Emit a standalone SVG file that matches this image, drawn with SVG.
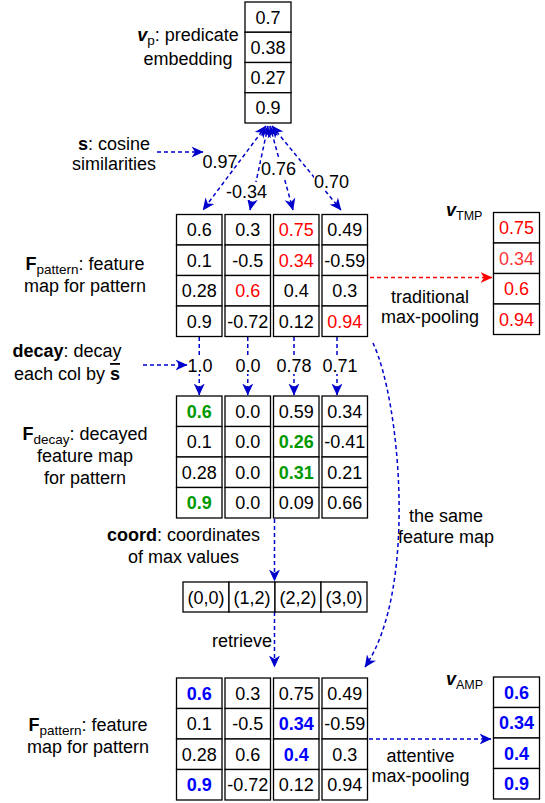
<svg xmlns="http://www.w3.org/2000/svg" width="545" height="803" viewBox="0 0 545 803">
<defs>
<style>
text{font-family:"Liberation Sans",Arial,Helvetica,sans-serif;font-size:18px;fill:#000}
.cell{fill:#fff;stroke:#000;stroke-width:1.3}
.c{text-anchor:middle}
.red{fill:#FF0000}
.red2{fill:#FF3333}
.grn{fill:#009900;font-weight:bold}
.blu{fill:#0000FF;font-weight:bold}
.b{font-weight:bold}
.bi{font-weight:bold;font-style:italic}
.sub{font-size:13.5px}
.edge{fill:none;stroke:#0000CC;stroke-width:1.5;stroke-dasharray:4 3}
.edgeR{fill:none;stroke:#FF0000;stroke-width:1.5;stroke-dasharray:4 3}
.lbg{fill:#fff}
</style>
<marker id="ab" viewBox="0 0 12 12" markerWidth="12" markerHeight="12" refX="11.5" refY="6" orient="auto-start-reverse" markerUnits="userSpaceOnUse">
<path d="M0,0.5 L12,6 L0,11.5 L3.5,6 Z" fill="#0000CC"/>
</marker>
<marker id="ar" viewBox="0 0 12 12" markerWidth="12" markerHeight="12" refX="11.5" refY="6" orient="auto" markerUnits="userSpaceOnUse">
<path d="M0,0.5 L12,6 L0,11.5 L3.5,6 Z" fill="#FF0000"/>
</marker>
</defs>
<rect width="545" height="803" fill="#fff"/>

<g id="connectors">
<path class="edge" d="M266,126 L203,210" marker-start="url(#ab)" marker-end="url(#ab)"/>
<path class="edge" d="M268,126 L250,210" marker-start="url(#ab)" marker-end="url(#ab)"/>
<path class="edge" d="M270,126 L293,210" marker-start="url(#ab)" marker-end="url(#ab)"/>
<path class="edge" d="M272,126 L341,210" marker-start="url(#ab)" marker-end="url(#ab)"/>
<path class="edge" d="M157,152 L203,152" marker-end="url(#ab)"/>
<path class="edge" d="M143,365 L187,365" marker-end="url(#ab)"/>
<path class="edge" d="M199.25,337 L199.25,395" marker-end="url(#ab)"/>
<path class="edge" d="M247.75,337 L247.75,395" marker-end="url(#ab)"/>
<path class="edge" d="M294,337 L294,395" marker-end="url(#ab)"/>
<path class="edge" d="M337,337 L337,395" marker-end="url(#ab)"/>
<path class="edgeR" d="M370,277.5 L492,277.5" marker-end="url(#ar)"/>
<path class="edge" d="M373,343 C400,400 418,590 365,667" marker-end="url(#ab)"/>
<path class="edge" d="M274.5,519 L274.5,581" marker-end="url(#ab)"/>
<path class="edge" d="M274.5,612 L274.5,667" marker-end="url(#ab)"/>
<path class="edge" d="M369,739 L491,739" marker-end="url(#ab)"/>
<rect class="lbg" x="226" y="182" width="41" height="18"/>
<rect class="lbg" x="261" y="159" width="35" height="18"/>
<rect class="lbg" x="314" y="172" width="35" height="18"/>
<rect class="lbg" x="189" y="356" width="23" height="18"/>
<rect class="lbg" x="236" y="356" width="24" height="18"/>
<rect class="lbg" x="277" y="356" width="34" height="18"/>
<rect class="lbg" x="323" y="356" width="34" height="18"/>
<text class="c" x="220" y="167.5">0.97</text>
<text class="c" x="246.5" y="197.5">-0.34</text>
<text class="c" x="278.5" y="174.5">0.76</text>
<text class="c" x="331.5" y="187.5">0.70</text>
<text class="c" x="200" y="371.5">1.0</text>
<text class="c" x="248" y="371.5">0.0</text>
<text class="c" x="294" y="371.5">0.78</text>
<text class="c" x="340" y="371.5">0.71</text>
<text x="272" y="647" text-anchor="end">retrieve</text>
<text class="c" x="446" y="522">the same</text>
<text class="c" x="446" y="543">feature map</text>
<text class="c" x="430" y="303">traditional</text>
<text class="c" x="430" y="323">max-pooling</text>
<text class="c" x="420.5" y="762">attentive</text>
<text class="c" x="420.5" y="782">max-pooling</text>
</g>

<g id="vp">
<rect class="cell" x="245" y="2" width="46" height="30.25"/>
<rect class="cell" x="245" y="32.25" width="46" height="30.25"/>
<rect class="cell" x="245" y="62.5" width="46" height="30.25"/>
<rect class="cell" x="245" y="92.75" width="46" height="30.25"/>
<text class="c" x="268" y="23.6">0.7</text>
<text class="c" x="268" y="53.9">0.38</text>
<text class="c" x="268" y="84.1">0.27</text>
<text class="c" x="268" y="114.4">0.9</text>
<text class="c" x="188" y="41"><tspan class="bi">v</tspan><tspan class="sub" dy="4">p</tspan><tspan dy="-4">: predicate</tspan></text>
<text class="c" x="188" y="65">embedding</text>
</g>

<g id="s-label">
<text class="c" x="114" y="150"><tspan class="b">s</tspan>: cosine</text>
<text class="c" x="114" y="170">similarities</text>
</g>

<g id="f-pattern">
<rect class="cell" x="176.5" y="214.5" width="45.5" height="30.5"/>
<rect class="cell" x="176.5" y="245" width="45.5" height="30.5"/>
<rect class="cell" x="176.5" y="275.5" width="45.5" height="30.5"/>
<rect class="cell" x="176.5" y="306" width="45.5" height="30.5"/>
<rect class="cell" x="225" y="214.5" width="45.5" height="30.5"/>
<rect class="cell" x="225" y="245" width="45.5" height="30.5"/>
<rect class="cell" x="225" y="275.5" width="45.5" height="30.5"/>
<rect class="cell" x="225" y="306" width="45.5" height="30.5"/>
<rect class="cell" x="273.5" y="214.5" width="45.5" height="30.5"/>
<rect class="cell" x="273.5" y="245" width="45.5" height="30.5"/>
<rect class="cell" x="273.5" y="275.5" width="45.5" height="30.5"/>
<rect class="cell" x="273.5" y="306" width="45.5" height="30.5"/>
<rect class="cell" x="322" y="214.5" width="45.5" height="30.5"/>
<rect class="cell" x="322" y="245" width="45.5" height="30.5"/>
<rect class="cell" x="322" y="275.5" width="45.5" height="30.5"/>
<rect class="cell" x="322" y="306" width="45.5" height="30.5"/>
<text class="c" x="199.25" y="236">0.6</text>
<text class="c" x="199.25" y="266.5">0.1</text>
<text class="c" x="199.25" y="297">0.28</text>
<text class="c" x="199.25" y="327.5">0.9</text>
<text class="c" x="247.75" y="236">0.3</text>
<text class="c" x="247.75" y="266.5">-0.5</text>
<text class="c red" x="247.75" y="297">0.6</text>
<text class="c" x="247.75" y="327.5">-0.72</text>
<text class="c red" x="296.25" y="236">0.75</text>
<text class="c red" x="296.25" y="266.5">0.34</text>
<text class="c" x="296.25" y="297">0.4</text>
<text class="c" x="296.25" y="327.5">0.12</text>
<text class="c" x="344.75" y="236">0.49</text>
<text class="c" x="344.75" y="266.5">-0.59</text>
<text class="c" x="344.75" y="297">0.3</text>
<text class="c red" x="344.75" y="327.5">0.94</text>
<text class="c" x="85" y="270"><tspan class="b">F</tspan><tspan class="sub" dy="4">pattern</tspan><tspan dy="-4">: feature</tspan></text>
<text class="c" x="85" y="292">map for pattern</text>
</g>

<g id="v-tmp">
<rect class="cell" x="493.5" y="212.5" width="46" height="30.5"/>
<rect class="cell" x="493.5" y="243" width="46" height="30.5"/>
<rect class="cell" x="493.5" y="273.5" width="46" height="30.5"/>
<rect class="cell" x="493.5" y="304" width="46" height="30.5"/>
<text class="c red" x="516.5" y="234">0.75</text>
<text class="c red2" x="516.5" y="264.5">0.34</text>
<text class="c red" x="516.5" y="295">0.6</text>
<text class="c red" x="516.5" y="325.5">0.94</text>
<text x="446" y="216"><tspan class="bi">v</tspan><tspan font-size="12.5" dy="4">TMP</tspan></text>
</g>

<g id="decay-label">
<text class="c" x="67" y="357"><tspan class="b">decay</tspan>: decay</text>
<text class="c" x="67" y="380">each col by <tspan class="b" text-decoration="overline">s</tspan></text>
</g>

<g id="f-decay">
<rect class="cell" x="176.5" y="396" width="45.5" height="30.5"/>
<rect class="cell" x="176.5" y="426.5" width="45.5" height="30.5"/>
<rect class="cell" x="176.5" y="457" width="45.5" height="30.5"/>
<rect class="cell" x="176.5" y="487.5" width="45.5" height="30.5"/>
<rect class="cell" x="225" y="396" width="45.5" height="30.5"/>
<rect class="cell" x="225" y="426.5" width="45.5" height="30.5"/>
<rect class="cell" x="225" y="457" width="45.5" height="30.5"/>
<rect class="cell" x="225" y="487.5" width="45.5" height="30.5"/>
<rect class="cell" x="273.5" y="396" width="45.5" height="30.5"/>
<rect class="cell" x="273.5" y="426.5" width="45.5" height="30.5"/>
<rect class="cell" x="273.5" y="457" width="45.5" height="30.5"/>
<rect class="cell" x="273.5" y="487.5" width="45.5" height="30.5"/>
<rect class="cell" x="322" y="396" width="45.5" height="30.5"/>
<rect class="cell" x="322" y="426.5" width="45.5" height="30.5"/>
<rect class="cell" x="322" y="457" width="45.5" height="30.5"/>
<rect class="cell" x="322" y="487.5" width="45.5" height="30.5"/>
<text class="c grn" x="199.25" y="417.5">0.6</text>
<text class="c" x="199.25" y="448">0.1</text>
<text class="c" x="199.25" y="478.5">0.28</text>
<text class="c grn" x="199.25" y="509">0.9</text>
<text class="c" x="247.75" y="417.5">0.0</text>
<text class="c" x="247.75" y="448">0.0</text>
<text class="c" x="247.75" y="478.5">0.0</text>
<text class="c" x="247.75" y="509">0.0</text>
<text class="c" x="296.25" y="417.5">0.59</text>
<text class="c grn" x="296.25" y="448">0.26</text>
<text class="c grn" x="296.25" y="478.5">0.31</text>
<text class="c" x="296.25" y="509">0.09</text>
<text class="c" x="344.75" y="417.5">0.34</text>
<text class="c" x="344.75" y="448">-0.41</text>
<text class="c" x="344.75" y="478.5">0.21</text>
<text class="c" x="344.75" y="509">0.66</text>
<text class="c" x="85" y="440"><tspan class="b">F</tspan><tspan class="sub" dy="4">decay</tspan><tspan dy="-4">: decayed</tspan></text>
<text class="c" x="85" y="462">feature map</text>
<text class="c" x="85" y="484">for pattern</text>
</g>

<g id="coord">
<rect class="cell" x="183" y="582" width="46" height="30"/>
<rect class="cell" x="229" y="582" width="46" height="30"/>
<rect class="cell" x="275" y="582" width="46" height="30"/>
<rect class="cell" x="321" y="582" width="46" height="30"/>
<text class="c" x="206" y="603.5">(0,0)</text>
<text class="c" x="252" y="603.5">(1,2)</text>
<text class="c" x="298" y="603.5">(2,2)</text>
<text class="c" x="344" y="603.5">(3,0)</text>
<text class="c" x="183.5" y="541"><tspan class="b">coord</tspan>: coordinates</text>
<text class="c" x="183.5" y="563">of max values</text>
</g>

<g id="f-pattern-amp">
<rect class="cell" x="176.5" y="678" width="45.5" height="30.5"/>
<rect class="cell" x="176.5" y="708.5" width="45.5" height="30.5"/>
<rect class="cell" x="176.5" y="739" width="45.5" height="30.5"/>
<rect class="cell" x="176.5" y="769.5" width="45.5" height="30.5"/>
<rect class="cell" x="225" y="678" width="45.5" height="30.5"/>
<rect class="cell" x="225" y="708.5" width="45.5" height="30.5"/>
<rect class="cell" x="225" y="739" width="45.5" height="30.5"/>
<rect class="cell" x="225" y="769.5" width="45.5" height="30.5"/>
<rect class="cell" x="273.5" y="678" width="45.5" height="30.5"/>
<rect class="cell" x="273.5" y="708.5" width="45.5" height="30.5"/>
<rect class="cell" x="273.5" y="739" width="45.5" height="30.5"/>
<rect class="cell" x="273.5" y="769.5" width="45.5" height="30.5"/>
<rect class="cell" x="322" y="678" width="45.5" height="30.5"/>
<rect class="cell" x="322" y="708.5" width="45.5" height="30.5"/>
<rect class="cell" x="322" y="739" width="45.5" height="30.5"/>
<rect class="cell" x="322" y="769.5" width="45.5" height="30.5"/>
<text class="c blu" x="199.25" y="699.5">0.6</text>
<text class="c" x="199.25" y="730">0.1</text>
<text class="c" x="199.25" y="760.5">0.28</text>
<text class="c blu" x="199.25" y="791">0.9</text>
<text class="c" x="247.75" y="699.5">0.3</text>
<text class="c" x="247.75" y="730">-0.5</text>
<text class="c" x="247.75" y="760.5">0.6</text>
<text class="c" x="247.75" y="791">-0.72</text>
<text class="c" x="296.25" y="699.5">0.75</text>
<text class="c blu" x="296.25" y="730">0.34</text>
<text class="c blu" x="296.25" y="760.5">0.4</text>
<text class="c" x="296.25" y="791">0.12</text>
<text class="c" x="344.75" y="699.5">0.49</text>
<text class="c" x="344.75" y="730">-0.59</text>
<text class="c" x="344.75" y="760.5">0.3</text>
<text class="c" x="344.75" y="791">0.94</text>
<text class="c" x="88" y="731"><tspan class="b">F</tspan><tspan class="sub" dy="4">pattern</tspan><tspan dy="-4">: feature</tspan></text>
<text class="c" x="88" y="753">map for pattern</text>
</g>

<g id="v-amp">
<rect class="cell" x="493.5" y="677" width="46" height="30.5"/>
<rect class="cell" x="493.5" y="707.5" width="46" height="30.5"/>
<rect class="cell" x="493.5" y="738" width="46" height="30.5"/>
<rect class="cell" x="493.5" y="768.5" width="46" height="30.5"/>
<text class="c blu" x="516.5" y="698.5">0.6</text>
<text class="c blu" x="516.5" y="729">0.34</text>
<text class="c blu" x="516.5" y="759.5">0.4</text>
<text class="c blu" x="516.5" y="790">0.9</text>
<text x="446" y="685"><tspan class="bi">v</tspan><tspan font-size="12.5" dy="4">AMP</tspan></text>
</g>
</svg>
